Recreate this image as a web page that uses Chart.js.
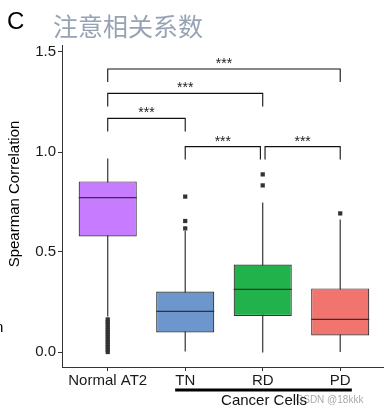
<!DOCTYPE html>
<html>
<head>
<meta charset="utf-8">
<script src="https://cdn.jsdelivr.net/npm/chart.js@4.4.0/dist/chart.umd.min.js"></script>
<style>
  html, body { margin: 0; padding: 0; background: #fff; }
  #wrap { width: 384px; height: 413px; }
</style>
</head>
<body>
<div id="wrap"><canvas id="chart"></canvas></div>
<script>
const categories = ["Normal AT2", "TN", "RD", "PD"];
const boxColors = ["#C77CFF", "#6C96CC", "#22B24C", "#F1746E"];
const lowerWhisker = [0.178, 0.002, -0.003, 0.0];
const q1 = [0.578, 0.098, 0.18, 0.083];
const medians = [0.772, 0.203, 0.313, 0.163];
const q3 = [0.853, 0.302, 0.437, 0.318];
const upperWhisker = [0.968, 0.605, 0.747, 0.662];
const outliers = [
  [0.0, 0.012, 0.025, 0.037, 0.05, 0.062, 0.075, 0.088, 0.1, 0.112, 0.125, 0.138, 0.15, 0.163],
  [0.618, 0.655, 0.777],
  [0.833, 0.888],
  [0.693]
];
const yTicks = [0, 0.5, 1, 1.5];

// significance brackets (Wilcoxon, all ***)
const pairFrom = [1, 1, 1, 2, 3.03];
const pairTo = [4, 3, 2, 2.97, 4];
const pairY = [1.415, 1.293, 1.168, 1.027, 1.027];
const pairLabel = ["***", "***", "***", "***", "***"];
const tip = 0.065;

const font = "Liberation Sans";
const ink = "#333";

const datasets = [];

categories.forEach(function(c, i) {
  datasets.push({
    type: "line",
    data: [{ x: i + 1, y: lowerWhisker[i] }, { x: i + 1, y: upperWhisker[i] }],
    borderColor: ink,
    borderWidth: 1.2,
    pointRadius: 0,
    order: 5
  });
});

datasets.push({
  type: "bar",
  data: categories.map((c, i) => ({ x: i + 1, y: [q1[i], q3[i]] })),
  backgroundColor: boxColors,
  borderColor: ink,
  borderWidth: 1.2,
  borderSkipped: false,
  barPercentage: 0.75,
  categoryPercentage: 1,
  order: 4
});

datasets.push({
  type: "scatter",
  data: medians.map((m, i) => ({ x: i + 1, y: m })),
  pointStyle: "line",
  pointRadius: 29,
  pointHoverRadius: 29,
  borderColor: ink,
  borderWidth: 1.2,
  order: 3
});

datasets.push({
  type: "scatter",
  data: outliers.flatMap((list, i) => list.map(v => ({ x: i + 1, y: v }))),
  pointStyle: "rect",
  pointRadius: 3,
  backgroundColor: ink,
  borderWidth: 0,
  order: 2
});

pairFrom.forEach(function(from, i) {
  datasets.push({
    type: "line",
    data: [
      { x: from, y: pairY[i] - tip },
      { x: from, y: pairY[i] },
      { x: pairTo[i], y: pairY[i] },
      { x: pairTo[i], y: pairY[i] - tip }
    ],
    borderColor: "#111",
    borderWidth: 1.1,
    pointRadius: 0,
    tension: 0,
    order: 1
  });
});

const annotations = {
  id: "annotations",
  afterDraw(chart) {
    const ctx = chart.ctx;
    const xs = chart.scales.x;
    const ys = chart.scales.y;
    ctx.save();

    // stars over the brackets
    ctx.fillStyle = "#222";
    ctx.font = "14px '" + font + "'";
    ctx.textAlign = "center";
    ctx.textBaseline = "alphabetic";
    pairLabel.forEach(function(t, i) {
      const mx = (pairFrom[i] + pairTo[i]) / 2;
      ctx.fillText(t, xs.getPixelForValue(mx), ys.getPixelForValue(pairY[i]) - 1);
    });

    // panel letter and title
    ctx.textAlign = "left";
    ctx.fillStyle = "#000";
    ctx.font = "24px '" + font + "'";
    ctx.fillText("C", 7, 29);
    ctx.fillStyle = "#97a3b4";
    ctx.font = "25px 'Noto Sans CJK SC'";
    ctx.textBaseline = "middle";
    ctx.fillText("注意相关系数", 53, 26);

    // y axis title
    ctx.save();
    ctx.translate(15, 194);
    ctx.rotate(-Math.PI / 2);
    ctx.textAlign = "center";
    ctx.fillStyle = "#000";
    ctx.font = "15px '" + font + "'";
    ctx.fillText("Spearman Correlation", 0, 0);
    ctx.restore();

    // stray glyph at left edge
    ctx.textBaseline = "alphabetic";
    ctx.fillStyle = "#000";
    ctx.font = "15px '" + font + "'";
    ctx.fillText("n", -5, 332);

    // cancer cells group
    ctx.strokeStyle = "#000";
    ctx.lineWidth = 3;
    ctx.beginPath();
    ctx.moveTo(xs.getPixelForValue(1.87), 390);
    ctx.lineTo(xs.getPixelForValue(4.15), 390);
    ctx.stroke();

    ctx.fillStyle = "#aaa";
    ctx.font = "10px '" + font + "'";
    ctx.fillText("CSDN @18kkk", 296, 403);

    ctx.fillStyle = "#111";
    ctx.font = "15px '" + font + "'";
    ctx.textAlign = "center";
    ctx.fillText("Cancer Cells", 264, 405);

    ctx.restore();
  }
};

const axisGrid = { display: true, offset: false, drawOnChartArea: false, drawTicks: true, tickLength: 4, color: ink, lineWidth: 1 };
const axisBorder = { display: true, color: ink, width: 1 };

new Chart(document.getElementById("chart").getContext("2d"), {
  type: "bar",
  data: { datasets: datasets },
  options: {
    responsive: true,
    maintainAspectRatio: false,
    animation: false,
    events: [],
    layout: { autoPadding: false, padding: { top: 45, left: 0, right: 0, bottom: 0 } },
    plugins: { legend: { display: false }, tooltip: { enabled: false } },
    scales: {
      x: {
        type: "linear",
        min: 0.41,
        max: 4.565,
        offset: false,
        afterBuildTicks: s => { s.ticks = categories.map((c, i) => ({ value: i + 1 })); },
        afterFit: s => { s.height = 46; },
        grid: axisGrid,
        border: axisBorder,
        ticks: {
          callback: v => categories[Math.round(v) - 1],
          font: { family: font, size: 15 },
          color: "#1a1a1a",
          padding: 1,
          maxRotation: 0,
          autoSkip: false
        }
      },
      y: {
        type: "linear",
        min: -0.075,
        max: 1.535,
        afterBuildTicks: s => { s.ticks = yTicks.map(v => ({ value: v })); },
        afterFit: s => { s.width = 62; },
        grid: axisGrid,
        border: axisBorder,
        ticks: {
          callback: v => v.toFixed(1),
          font: { family: font, size: 15 },
          color: "#1a1a1a",
          padding: 2
        }
      }
    }
  },
  plugins: [annotations]
});
</script>
</body>
</html>
